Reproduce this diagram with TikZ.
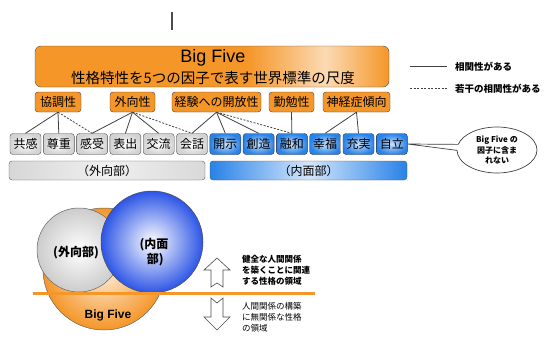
\documentclass[tikz,border=0pt]{standalone}
\usepackage{fontspec}
\setmainfont{Liberation Sans}
\newfontfamily\jp{Noto Sans CJK JP}
\usetikzlibrary{shapes.callouts}
\definecolor{ora}{RGB}{245,150,40}
\definecolor{bl}{RGB}{40,130,232}
\definecolor{bcirc}{RGB}{45,85,230}
\pgfdeclarehorizontalshading{bfshade}{100bp}{color(0bp)=(ora); color(25bp)=(ora); color(55bp)=(ora); color(66bp)=(ora!35!white); color(75bp)=(ora); color(100bp)=(ora)}
\tikzset{
  factor/.style={draw=black!75, fill=ora, rounded corners=3pt, minimum height=20pt, inner sep=1pt, font=\jp\fontsize{12}{14}\selectfont},
  traitg/.style={draw=black!70, inner color=white, outer color=gray!35, rounded corners=3pt, minimum width=31pt, minimum height=21pt, inner sep=1pt, font=\jp\fontsize{12}{14}\selectfont},
  traitb/.style={draw=black!80, inner color=bl!25!white, outer color=bl, rounded corners=3pt, minimum width=31pt, minimum height=21pt, inner sep=1pt, font=\jp\fontsize{12}{14}\selectfont},
  bar/.style={draw=black!65, rounded corners=3pt, minimum height=19pt, inner sep=1pt, font=\jp\fontsize{12}{14}\selectfont},
  rel/.style={draw=black!75, line width=0.8pt},
  weak/.style={draw=black!75, line width=0.8pt, dash pattern=on 2pt off 1.5pt},
  legtext/.style={anchor=west, font=\jp\bfseries\fontsize{9.5}{11}\selectfont, inner sep=0pt},
  hollowarrow/.style={draw=black!70, fill=white, line width=0.6pt, line join=miter},
  sidetext/.style={anchor=north west, align=left, inner sep=0pt, font=\jp\fontsize{8.5}{11}\selectfont},
}
\begin{document}
\begin{tikzpicture}[x=1pt,y=-1pt]
\useasboundingbox (0,0) rectangle (544,364);
% caret mark
\coordinate (c1) at (172,12); \coordinate (c2) at (172,30);
\draw[line width=1.4pt, black!70] (c1) -- (c2);
% Big Five box
\node[draw=black!70, shading=bfshade, rounded corners=6pt, minimum width=354pt, minimum height=41pt] (bf) at (212,66.5) {};
\node[font=\fontsize{18}{20}\selectfont, inner sep=0pt] (bft) at (213,58) {Big Five};
\node[font=\jp\fontsize{14.5}{16}\selectfont, inner sep=0pt] (bfs) at (213,78) {性格特性を5つの因子で表す世界標準の尺度};
% legend
\coordinate (l1a) at (410,66); \coordinate (l1b) at (447,66);
\coordinate (l2a) at (410,88); \coordinate (l2b) at (447,88);
\draw[rel] (l1a) -- (l1b);
\draw[weak] (l2a) -- (l2b);
\node[legtext] (lt1) at (455,67) {相関性がある};
\node[legtext] (lt2) at (455,89) {若干の相関性がある};
% factors
\node[factor, minimum width=46pt] (f1) at (58,102) {協調性};
\node[factor, minimum width=45pt] (f2) at (132.5,102) {外向性};
\node[factor, minimum width=89pt] (f3) at (216.5,102) {経験への開放性};
\node[factor, minimum width=45pt] (f4) at (291.5,102) {勤勉性};
\node[factor, minimum width=67pt] (f5) at (356.5,102) {神経症傾向};
% traits
\node[traitg] (t1) at (25.5,144) {共感};
\node[traitg] (t2) at (58.8,144) {尊重};
\node[traitg] (t3) at (92.1,144) {感受};
\node[traitg] (t4) at (125.4,144) {表出};
\node[traitg] (t5) at (158.7,144) {交流};
\node[traitg] (t6) at (192,144) {会話};
\node[traitb] (t7) at (225.3,144) {開示};
\node[traitb] (t8) at (258.6,144) {創造};
\node[traitb] (t9) at (291.9,144) {融和};
\node[traitb] (t10) at (325.2,144) {幸福};
\node[traitb] (t11) at (358.5,144) {充実};
\node[traitb] (t12) at (391.8,144) {自立};
% bars
\node[bar, minimum width=196pt, left color=gray!32, right color=gray!30, middle color=gray!12] (g1) at (107,170.5) {（外向部）};
\node[bar, minimum width=197pt, left color=bl, right color=bl, middle color=bl!20!white] (g2) at (308.5,170.5) {（内面部）};
% connectors
\draw[rel] (f1.south) -- (t1.north);
\draw[rel] (f1.south) -- (t2.north);
\draw[weak] (f1.south) -- (t3.north);
\draw[rel] (f2.south) -- (t3.north);
\draw[rel] (f2.south) -- (t4.north);
\draw[rel] (f2.south) -- (t5.north);
\draw[weak] (f2.south) -- (t6.north);
\draw[rel] (f3.south) -- (t6.north);
\draw[rel] (f3.south) -- (t7.north);
\draw[rel] (f3.south) -- (t8.north);
\draw[weak] (f3.south) -- (t9.north);
\draw[rel] (f4.south) -- (t9.north);
\draw[rel] (f5.south) -- (t10.north);
\draw[rel] (f5.south) -- (t11.north);
% callout
\node[ellipse callout, draw=black!75, fill=white, line width=0.7pt, minimum width=80pt, minimum height=46pt, callout absolute pointer={(t12.east)}, align=center, inner sep=0pt, font=\jp\bfseries\fontsize{8}{10.5}\selectfont] (co) at (497,150) {Big Five の\\因子に含ま\\れない};
% bottom diagram
\shade[inner color=ora!15!white, outer color=ora, draw=black!60, line width=0.5pt] (104,269) circle (61pt);
\shade[inner color=white, outer color=gray!40, draw=black!60, line width=0.5pt] (79,250) circle (42pt);
\shade[inner color=white, outer color=bcirc, draw=black!70, line width=0.5pt] (152,242) circle (51pt);
\node[font=\jp\bfseries\fontsize{12}{15}\selectfont, inner sep=0pt] (ext) at (76,253) {(外向部)};
\node[font=\jp\bfseries\fontsize{12}{15}\selectfont, inner sep=0pt, align=center] (int) at (154,252) {(内面\\\ 部)};
\node[font=\bfseries\fontsize{12}{14}\selectfont, inner sep=0pt] (bfl) at (108,315) {Big Five};
\coordinate (hl1) at (33,293); \coordinate (hl2) at (315,293);
\draw[ora, line width=3pt] (hl1) -- (hl2);
% hollow arrows
\draw[hollowarrow] (217,258) -- (230,270) -- (223,270) -- (223,287) -- (217,283) -- (211,287) -- (211,270) -- (204,270) -- cycle;
\draw[hollowarrow] (211,298) -- (217,303) -- (223,298) -- (223,317) -- (230,317) -- (217,330) -- (204,317) -- (211,317) -- cycle;
\node[sidetext, font=\jp\bfseries\fontsize{8.5}{11}\selectfont] (up) at (242,255) {健全な人間関係\\を築くことに関連\\する性格の領域};
\node[sidetext] (dn) at (242,302) {人間関係の構築\\に無関係な性格\\の領域};
\end{tikzpicture}
\end{document}
